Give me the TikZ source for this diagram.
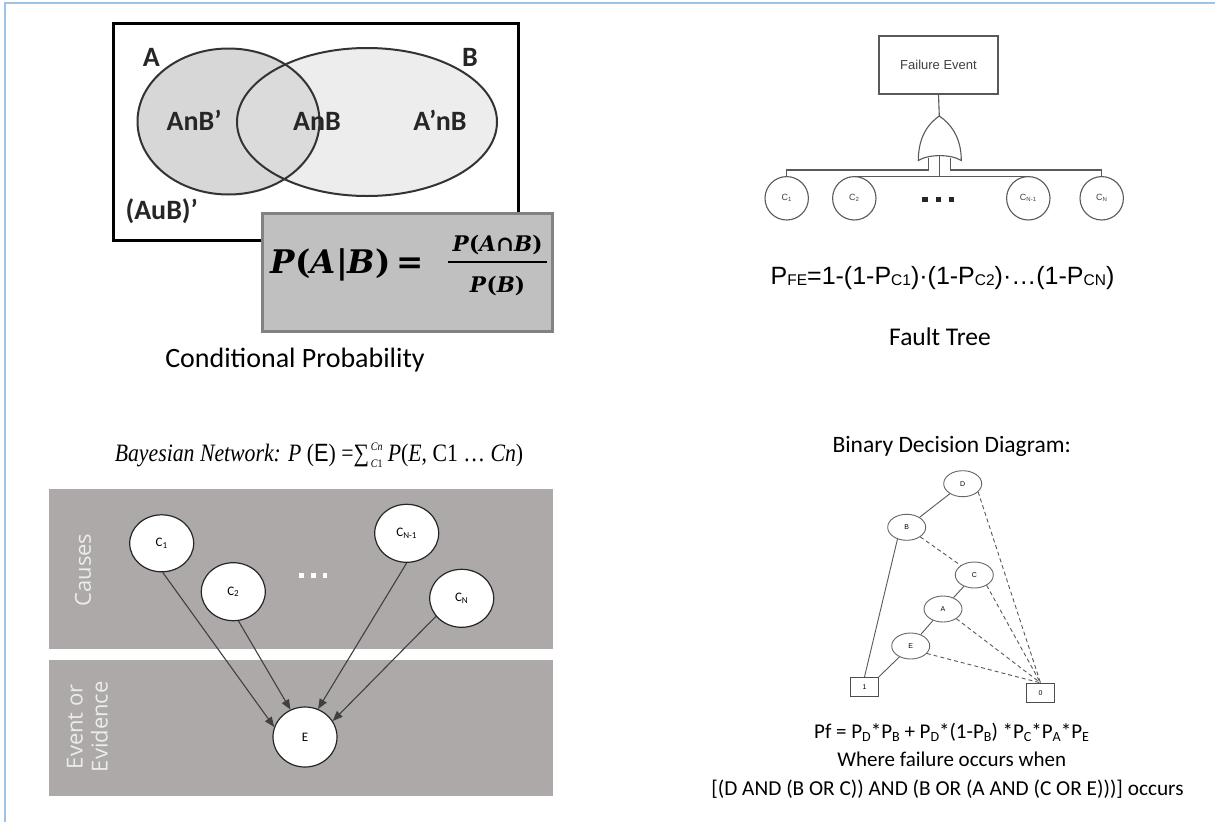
\documentclass[tikz,border=0pt]{standalone}
\usepackage{fontspec}
\setmainfont{Carlito}
\newfontfamily\arial{Liberation Sans}
\newfontfamily\timesf{Liberation Serif}
\newfontfamily\dvserif{DejaVu Serif}
\newfontfamily\opensans{Open Sans}
\usetikzlibrary{arrows.meta,shapes.geometric}
\definecolor{bordblue}{RGB}{157,195,230}
\definecolor{vennA}{RGB}{215,215,215}
\definecolor{vennAB}{RGB}{219,219,219}
\definecolor{vennB}{RGB}{237,237,237}
\definecolor{fmfill}{RGB}{192,192,192}
\definecolor{fmborder}{RGB}{130,130,130}
\definecolor{bandgray}{RGB}{173,169,168}
\definecolor{bandtext}{RGB}{236,236,236}
\tikzset{
  vennlbl/.style={anchor=base, font=\bfseries\fontsize{28}{28}\selectfont, text=black!85, inner sep=0pt},
  capt/.style={anchor=base, inner sep=0pt, text=black},
  ftline/.style={draw=black!65, line width=1.1pt},
  ftcirc/.style={circle, draw=black!65, line width=1.1pt, minimum size=43.4pt, inner sep=0pt, font=\arial\fontsize{9}{9}\selectfont, text=black!75},
  bnnode/.style={ellipse, draw=black!85, fill=white, line width=1.2pt, inner sep=0pt, font=\fontsize{13}{13}\selectfont},
  bnarrow/.style={draw=black!75, line width=1.1pt, -{Triangle[length=10pt,width=8pt]}},
  bandlbl/.style={rotate=90, text=bandtext, font=\opensans\fontsize{22}{25}\selectfont, align=center, inner sep=0pt},
  bddnode/.style={ellipse, draw=black!60, line width=0.9pt, minimum width=38pt, minimum height=26pt, inner sep=0pt, font=\arial\fontsize{7}{7}\selectfont},
  bddbox/.style={rectangle, draw=black!70, line width=0.9pt, minimum width=27.7pt, minimum height=19.4pt, inner sep=0pt, font=\arial\fontsize{7}{7}\selectfont},
  bddsolid/.style={draw=black!65, line width=0.9pt},
  bdddash/.style={draw=black!65, line width=0.9pt, dash pattern=on 4pt off 3pt},
}
\newcommand{\fsub}[1]{\raisebox{-1.5pt}{\fontsize{15.5}{15.5}\selectfont #1}}
\newcommand{\bsub}[1]{\raisebox{-3pt}{\fontsize{14}{14}\selectfont #1}}
\newcommand{\cpleft}{\dvserif\bfseries\fontsize{32.5}{32.5}\selectfont\textit{P}(\textit{A}\textbar\textit{B})\,=}
\newcommand{\cpnum}{\dvserif\bfseries\fontsize{21.5}{21.5}\selectfont\textit{P}(\textit{A}∩\textit{B})}
\newcommand{\cpden}{\dvserif\bfseries\fontsize{21.5}{21.5}\selectfont\textit{P}(\textit{B})}
\newcommand{\bnlim}[1]{{\fontsize{11.5}{11.5}\selectfont #1}}
\newcommand{\bnlims}{\rlap{\raisebox{11pt}{\bnlim{\textit{Cn}}}}\raisebox{-6pt}{\bnlim{\textit{C}1}}}
\newcommand{\bntext}{\scalebox{0.87}[1]{\timesf\fontsize{25}{25}\selectfont\textit{Bayesian Network: P} ({\arial E}) =∑\kern2pt\bnlims\kern6pt\textit{P}(\textit{E}, C1 … \textit{Cn})}}
\begin{document}
\begin{tikzpicture}[x=1pt,y=-1pt]
\useasboundingbox (0,0) rectangle (1215,822);
\fill[white] (0,0) rectangle (1215,822);
\draw[bordblue, line width=2.5pt] (5,822) -- (5,3) -- (1215,3);

% ---------------- Venn diagram ----------------
\node[draw=black, line width=3pt, minimum width=405pt, minimum height=217pt, inner sep=0pt] (vennbox) at (315.5,131.5) {};
\node[ellipse, fill=vennB, minimum width=260pt, minimum height=148pt, inner sep=0pt] (setB) at (367,122) {};
\node[ellipse, fill=vennA, minimum width=182pt, minimum height=146pt, inner sep=0pt] (setA) at (228.5,121.5) {};
\begin{scope}
  \clip (228.5,121.5) ellipse [x radius=91, y radius=73];
  \fill[vennAB] (367,122) ellipse [x radius=130, y radius=74];
\end{scope}
\draw[black!80, line width=2pt] (367,122) ellipse [x radius=130, y radius=74];
\draw[black!80, line width=2pt] (228.5,121.5) ellipse [x radius=91, y radius=73];
\node[vennlbl] (lA) at (151.3,66.7) {A};
\node[vennlbl] (lB) at (470,66.7) {B};
\node[vennlbl] (lAnBp) at (194,130) {AnB’};
\node[vennlbl] (lAnB) at (317,130) {AnB};
\node[vennlbl] (lApnB) at (440,130) {A’nB};
\node[vennlbl] (lAuB) at (161.7,219) {(AuB)’};

\node[draw=fmborder, fill=fmfill, line width=3pt, minimum width=290pt, minimum height=118pt, inner sep=0pt] (cpbox) at (407,272) {};
\node[capt, anchor=base west] (lhs) at (270,273.5) {\cpleft};
\node[capt] (num) at (497.5,251) {\cpnum};
\node[capt] (den) at (497.5,292) {\cpden};
\draw[black, line width=1.6pt] (448,262) -- (547,262);
\node[capt] (cpcap) at (295,367) {\fontsize{28}{28}\selectfont Conditional Probability};

% ---------------- Fault tree ----------------
\node[draw=black!65, line width=1.1pt, minimum width=119pt, minimum height=58pt, inner sep=0pt, text=black!75, font=\arial\fontsize{13}{13}\selectfont] (fe) at (938.5,65) {Failure Event};
\coordinate (gapex) at (939.3,116);
\draw[ftline] (fe.south) -- (gapex);
\draw[ftline] (918.3,160.5) .. controls (918.3,136) and (929,123) .. (gapex)
  .. controls (949.5,123) and (961.3,136) .. (961.3,160.5)
  .. controls (951,154) and (928.5,154) .. cycle;
\node[ftcirc] (c1) at (786.7,198.3) {C\textsubscript{1}};
\node[ftcirc] (c2) at (854.3,198.3) {C\textsubscript{2}};
\node[ftcirc] (cn1) at (1028.3,198.3) {C\textsubscript{N-1}};
\node[ftcirc] (cn) at (1101.7,198.3) {C\textsubscript{N}};
\coordinate (gL) at (928.3,157.5);
\coordinate (gM) at (939.3,155.6);
\coordinate (gR) at (950.3,157.5);
\draw[ftline] (gL) -- (928.3,170) -| (c1.north);
\draw[ftline] (gR) -- (950.3,170) -| (cn.north);
\draw[ftline] (gM) -- (gM |- c2.north);
\draw[ftline] (c2.north) -- (cn1.north);
\foreach \xx in {925,938.3,951.7} \fill[black!85] (\xx-2.7,196.6) rectangle (\xx+2.7,202);
\node[capt] (pfe) at (942.5,284.3) {\arial\fontsize{25}{25}\selectfont P\fsub{FE}=1-(1-P\fsub{C1})·(1-P\fsub{C2})·…(1-P\fsub{CN})};
\node[capt] (ftcap) at (940,345) {\fontsize{25.5}{25.5}\selectfont Fault Tree};

% ---------------- Bayesian network ----------------
\fill[bandgray] (49,489) rectangle (553,649);
\fill[bandgray] (49,660) rectangle (553,796);
\node[bandlbl] (causes) at (83,570) {Causes};
\node[bandlbl] (evt) at (87.5,726.7) {Event or\\Evidence};
\node[capt] (bntitle) at (319,461) {\bntext};
\node[bnnode, minimum width=64pt, minimum height=57pt] (bc1) at (161.7,543.3) {C\textsubscript{1}};
\node[bnnode, minimum width=64pt, minimum height=58pt] (bc2) at (233.3,591.7) {C\textsubscript{2}};
\node[bnnode, minimum width=64pt, minimum height=58pt] (bcn1) at (406.7,533.3) {C\textsubscript{N-1}};
\node[bnnode, minimum width=64pt, minimum height=58pt] (bcn) at (461.7,598.3) {C\textsubscript{N}};
\node[bnnode, minimum width=64pt, minimum height=60pt] (be) at (305,737) {E};
\foreach \xx in {301.7,313.3,324.9} \fill[white] (\xx-2.3,572.5) rectangle (\xx+2.3,577.5);
\draw[bnarrow] (bc1.-88) -- (be.162);
\draw[bnarrow] (bc2.-80) -- (be.118);
\draw[bnarrow] (bcn1.south) -- (be.65);
\draw[bnarrow] (bcn.-145) -- (be.30);

% ---------------- Binary decision diagram ----------------
\node[capt] (bddtitle) at (951.7,452.7) {\fontsize{23.5}{23.5}\selectfont Binary Decision Diagram:};
\node[bddnode] (dD) at (962.7,483.7) {D};
\node[bddnode] (dB) at (906.7,527.3) {B};
\node[bddnode] (dC) at (974.3,575) {C};
\node[bddnode] (dA) at (943,609) {A};
\node[bddnode] (dE) at (910.7,646) {E};
\node[bddbox] (d1) at (864.5,687) {1};
\node[bddbox] (d0) at (1040.5,693) {0};
\draw[bddsolid] (dD) -- (dB);
\draw[bddsolid] (dB.232) -- (d1.north);
\draw[bddsolid] (dC) -- (dA);
\draw[bddsolid] (dA) -- (dE);
\draw[bddsolid] (dE) -- (d1.north east);
\draw[bdddash] (dD.-28) -- (d0.north);
\draw[bdddash] (dB) -- (dC);
\draw[bdddash] (dC.-40) -- (d0.north);
\draw[bdddash] (dA.-36) -- (d0.north);
\draw[bdddash] (dE.-25) -- (d0.north);
\node[capt] (pf) at (951.5,738.3) {\fontsize{21}{21}\selectfont Pf = P\bsub{D}*P\bsub{B} + P\bsub{D}*(1-P\bsub{B}) *P\bsub{C}*P\bsub{A}*P\bsub{E}};
\node[capt] (where) at (951.7,766.7) {\fontsize{21}{21}\selectfont Where failure occurs when};
\node[capt] (cond) at (947.5,795) {\fontsize{21.3}{21.3}\selectfont [(D AND (B OR C)) AND (B OR (A AND (C OR E)))] occurs};
\end{tikzpicture}
\end{document}
